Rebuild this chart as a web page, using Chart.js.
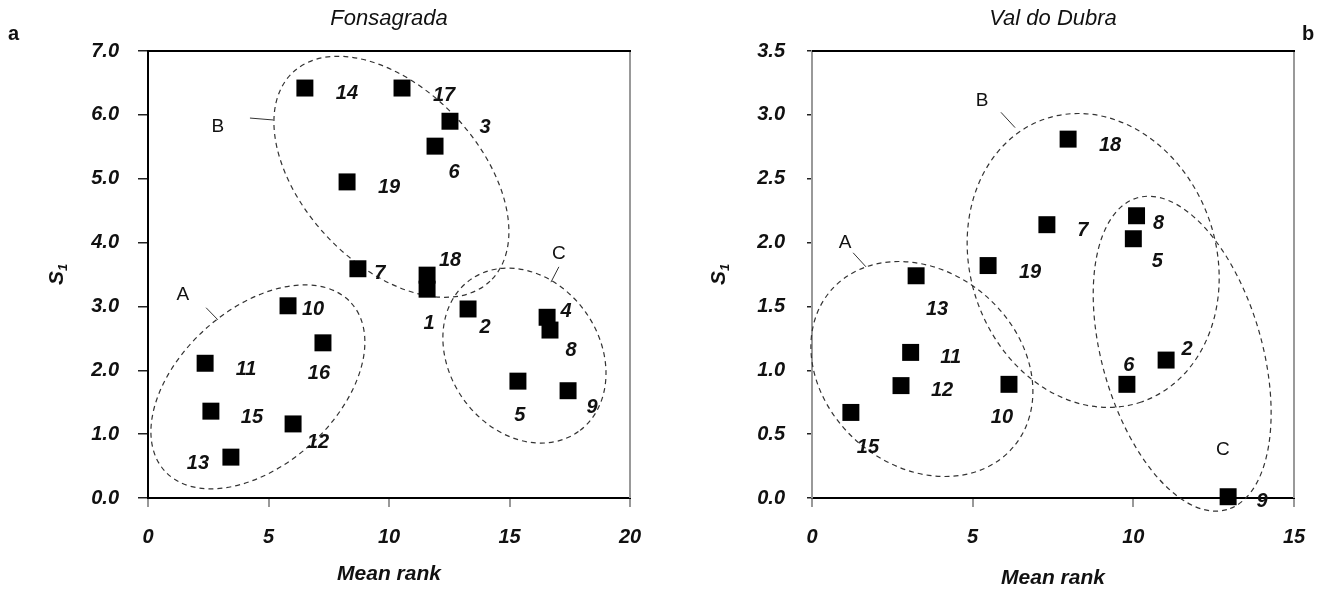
<!DOCTYPE html>
<html>
<head>
<meta charset="utf-8">
<title>S1 vs Mean rank</title>
<script src="https://cdn.jsdelivr.net/npm/chart.js@4.4.1/dist/chart.umd.min.js"></script>
<style>
  html, body { margin: 0; padding: 0; background: #fff; }
  #wrap { position: relative; width: 1329px; height: 591px; }
  canvas { position: absolute; top: 0; }
  #chartFons { left: 0; }
  #chartVal { left: 660px; }
</style>
</head>
<body>
<div id="wrap">
  <canvas id="chartFons" width="660" height="591"></canvas>
  <canvas id="chartVal" width="669" height="591"></canvas>
</div>
<script>
// panel a - Fonsagrada
const fonsIds = ["14", "17", "3", "6", "19", "7", "18", "1", "2", "4", "8", "5", "9", "10", "16", "11", "15", "12", "13"];
const fonsRank = [6.51, 10.54, 12.53, 11.91, 8.26, 8.71, 11.58, 11.58, 13.28, 16.56, 16.68, 15.35, 17.43, 5.81, 7.26, 2.37, 2.61, 6.02, 3.44];
const fonsS1 = [6.42, 6.42, 5.9, 5.51, 4.95, 3.59, 3.49, 3.27, 2.96, 2.83, 2.63, 1.83, 1.68, 3.01, 2.43, 2.11, 1.36, 1.16, 0.64];
const fonsXTicks = [0, 5, 10, 15, 20];
const fonsYTicks = [0, 1, 2, 3, 4, 5, 6, 7];

// panel b - Val do Dubra
const valIds = ["18", "7", "8", "5", "19", "13", "11", "12", "15", "10", "6", "2", "9"];
const valRank = [7.97, 7.31, 10.1, 10.0, 5.48, 3.24, 3.07, 2.77, 1.21, 6.13, 9.8, 11.02, 12.95];
const valS1 = [2.81, 2.14, 2.21, 2.03, 1.82, 1.74, 1.14, 0.88, 0.67, 0.89, 0.89, 1.08, 0.01];
const valXTicks = [0, 5, 10, 15];
const valYTicks = [0, 0.5, 1, 1.5, 2, 2.5, 3, 3.5];

// where the point numbers sit, relative to their square (px)
const fonsLabelDx = [42, 42, 35, 19, 42, 22, 23, 2, 17, 19, 21, 2, 24, 25, -4, 41, 41, 25, -33];
const fonsLabelDy = [5, 7, 6, 26, 6, 5, -15, 34, 19, -6, 20, 34, 17, 4, 31, 6, 6, 19, 6];
const valLabelDx = [42, 36, 22, 24, 42, 21, 40, 41, 17, -7, 2, 21, 34];
const valLabelDy = [6, 6, 8, 23, 7, 34, 5, 5, 35, 33, -19, -11, 5];

// dashed cluster outlines: centre in data units, radii in px
const fonsGroups = [
  { name: "A", cx: 4.56, cy: 1.74, rx: 125.5, ry: 78.1, rot: -41.9, lx: 1.45, ly: 3.18, leader: [2.41, 2.98, 2.9, 2.79] },
  { name: "B", cx: 10.1, cy: 5.03, rx: 143.6, ry: 87.8, rot: 46.6, lx: 2.9, ly: 5.81, leader: [4.23, 5.95, 5.19, 5.92] },
  { name: "C", cx: 15.62, cy: 2.23, rx: 93.2, ry: 75, rot: 54.6, lx: 17.05, ly: 3.82, leader: [17.05, 3.62, 16.72, 3.38] },
];
const valGroups = [
  { name: "A", cx: 3.42, cy: 1.01, rx: 120.2, ry: 97.1, rot: 40.6, lx: 1.03, ly: 2.0, leader: [1.28, 1.92, 1.68, 1.81] },
  { name: "B", cx: 8.75, cy: 1.86, rx: 149.5, ry: 123, rot: 71.2, lx: 5.29, ly: 3.11, leader: [5.88, 3.02, 6.32, 2.9] },
  { name: "C", cx: 11.52, cy: 1.13, rx: 162.2, ry: 80, rot: 74, lx: 12.79, ly: 0.38, leader: null },
];

const fontFamily = '"Liberation Sans", Arial, Helvetica, sans-serif';
Chart.defaults.font.family = fontFamily;
Chart.defaults.color = "#111";

const clusterPlugin = {
  id: "clusterMarks",
  beforeDatasetsDraw(chart, args, opts) {
    const ctx = chart.ctx;
    const xs = chart.scales.x;
    const ys = chart.scales.y;
    ctx.save();
    ctx.strokeStyle = "#333";
    ctx.lineWidth = 1.2;
    ctx.setLineDash([5, 4]);
    opts.groups.forEach((g) => {
      ctx.beginPath();
      ctx.ellipse(xs.getPixelForValue(g.cx), ys.getPixelForValue(g.cy), g.rx, g.ry, (g.rot * Math.PI) / 180, 0, Math.PI * 2);
      ctx.stroke();
    });
    ctx.setLineDash([]);
    ctx.lineWidth = 1;
    ctx.fillStyle = "#111";
    ctx.font = "19px " + fontFamily;
    ctx.textAlign = "center";
    ctx.textBaseline = "middle";
    opts.groups.forEach((g) => {
      if (g.leader) {
        ctx.beginPath();
        ctx.moveTo(xs.getPixelForValue(g.leader[0]), ys.getPixelForValue(g.leader[1]));
        ctx.lineTo(xs.getPixelForValue(g.leader[2]), ys.getPixelForValue(g.leader[3]));
        ctx.stroke();
      }
      ctx.fillText(g.name, xs.getPixelForValue(g.lx), ys.getPixelForValue(g.ly));
    });
    ctx.restore();
  },
  afterDatasetsDraw(chart, args, opts) {
    const ctx = chart.ctx;
    const meta = chart.getDatasetMeta(0);
    ctx.save();
    ctx.fillStyle = "#111";
    ctx.font = "italic bold 20px " + fontFamily;
    ctx.textAlign = "center";
    ctx.textBaseline = "middle";
    meta.data.forEach((pt, i) => {
      ctx.fillText(opts.ids[i], pt.x + opts.dx[i], pt.y + opts.dy[i]);
    });
    ctx.restore();
  },
};

const framePlugin = {
  id: "frame",
  afterDraw(chart, args, opts) {
    const ctx = chart.ctx;
    const a = chart.chartArea;
    ctx.save();
    ctx.lineWidth = 2;
    ctx.strokeStyle = "#000";
    ctx.beginPath();
    ctx.moveTo(a.left, a.top);
    ctx.lineTo(a.right + 1, a.top);
    ctx.stroke();
    ctx.strokeStyle = "#999";
    ctx.beginPath();
    ctx.moveTo(a.right, a.top + 1);
    ctx.lineTo(a.right, a.bottom);
    ctx.stroke();

    // y axis title S1 with a real subscript
    ctx.fillStyle = "#111";
    ctx.translate(opts.yTitleX, (a.top + a.bottom) / 2);
    ctx.rotate(-Math.PI / 2);
    ctx.textBaseline = "middle";
    ctx.textAlign = "left";
    ctx.font = "italic bold 21px " + fontFamily;
    const wS = ctx.measureText("S").width;
    ctx.font = "italic bold 13px " + fontFamily;
    const w1 = ctx.measureText("1").width;
    const start = -(wS + w1) / 2;
    ctx.font = "italic bold 21px " + fontFamily;
    ctx.fillText("S", start, 0);
    ctx.font = "italic bold 13px " + fontFamily;
    ctx.fillText("1", start + wS, 6);
    ctx.setTransform(1, 0, 0, 1, 0, 0);

    // panel letter
    ctx.font = "bold 20px " + fontFamily;
    ctx.textBaseline = "alphabetic";
    ctx.textAlign = "left";
    ctx.fillText(opts.letter, opts.letterX, 40);
    ctx.restore();
  },
};

function makeChart(canvasId, cfg) {
  const ctx = document.getElementById(canvasId);
  const points = cfg.ids.map((id, i) => ({ x: cfg.rank[i], y: cfg.s1[i] }));

  return new Chart(ctx, {
    type: "scatter",
    data: {
      datasets: [
        {
          label: cfg.title,
          data: points,
          pointStyle: "rect",
          pointRadius: 12,
          pointHoverRadius: 12,
          backgroundColor: "#000",
          borderColor: "#000",
          borderWidth: 0,
          clip: false,
        },
      ],
    },
    options: {
      responsive: false,
      animation: false,
      events: [],
      layout: {
        padding: { left: 0, top: 0, right: cfg.padRight, bottom: 0 },
      },
      plugins: {
        legend: { display: false },
        tooltip: { enabled: false },
        title: {
          display: true,
          text: cfg.title,
          fullSize: false,
          color: "#111",
          font: { size: 22, style: "italic", weight: "normal" },
          padding: { top: 6, bottom: 18.6 },
        },
        clusterMarks: { groups: cfg.groups, ids: cfg.ids, dx: cfg.dx, dy: cfg.dy },
        frame: { yTitleX: cfg.yTitleX, letter: cfg.letter, letterX: cfg.letterX },
      },
      scales: {
        x: {
          type: "linear",
          min: cfg.xTicks[0],
          max: cfg.xTicks[cfg.xTicks.length - 1],
          afterBuildTicks: (s) => {
            s.ticks = cfg.xTicks.map((v) => ({ value: v }));
          },
          afterFit: (s) => {
            s.height = 93;
          },
          grid: { drawOnChartArea: false, tickLength: 9, color: "#999", lineWidth: 2 },
          border: { display: true, color: "#000", width: 2 },
          ticks: {
            padding: 18,
            color: "#111",
            font: { size: 20, style: "italic", weight: "bold" },
            callback: (v) => String(v),
          },
          title: {
            display: true,
            text: "Mean rank",
            color: "#111",
            font: { size: 21, style: "italic", weight: "bold" },
            padding: { top: 0, bottom: cfg.xTitlePad },
          },
        },
        y: {
          type: "linear",
          min: cfg.yTicks[0],
          max: cfg.yTicks[cfg.yTicks.length - 1],
          afterBuildTicks: (s) => {
            s.ticks = cfg.yTicks.map((v) => ({ value: v }));
          },
          afterFit: (s) => {
            s.width = cfg.axisWidth;
          },
          grid: { drawOnChartArea: false, tickLength: cfg.yTickLen, color: "#222", lineWidth: 1.5 },
          border: { display: true, color: cfg.yAxisColor, width: 2 },
          ticks: {
            padding: cfg.yTickPad,
            color: "#111",
            font: { size: 20, style: "italic", weight: "bold" },
            callback: (v) => Number(v).toFixed(1),
          },
          title: { display: false },
        },
      },
    },
    plugins: [clusterPlugin, framePlugin],
  });
}

document.addEventListener("DOMContentLoaded", function () {
  makeChart("chartFons", {
    title: "Fonsagrada",
    ids: fonsIds,
    rank: fonsRank,
    s1: fonsS1,
    xTicks: fonsXTicks,
    yTicks: fonsYTicks,
    dx: fonsLabelDx,
    dy: fonsLabelDy,
    groups: fonsGroups,
    axisWidth: 148,
    padRight: 30,
    yTickLen: 10,
    yTickPad: 19,
    yAxisColor: "#000",
    xTitlePad: 4,
    yTitleX: 57,
    letter: "a",
    letterX: 8,
  });

  makeChart("chartVal", {
    title: "Val do Dubra",
    ids: valIds,
    rank: valRank,
    s1: valS1,
    xTicks: valXTicks,
    yTicks: valYTicks,
    dx: valLabelDx,
    dy: valLabelDy,
    groups: valGroups,
    axisWidth: 152,
    padRight: 35,
    yTickLen: 5,
    yTickPad: 22,
    yAxisColor: "#999",
    xTitlePad: 0,
    yTitleX: 59,
    letter: "b",
    letterX: 642,
  });
});
</script>
</body>
</html>
